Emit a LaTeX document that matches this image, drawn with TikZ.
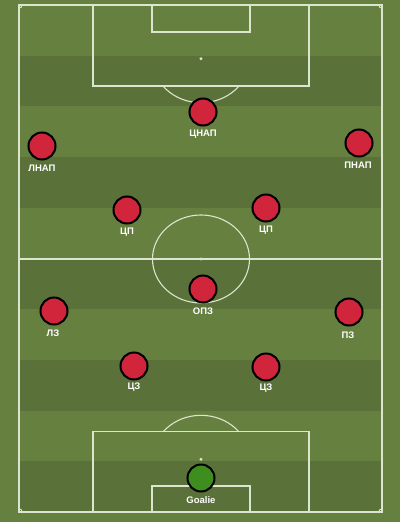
\documentclass[tikz,border=0pt]{standalone}
\usepackage{fontspec}
\setmainfont{Liberation Sans}
\definecolor{grassout}{HTML}{66803F}
\definecolor{grasslight}{HTML}{64803F}
\definecolor{grassdark}{HTML}{5A7139}
\definecolor{pitchline}{HTML}{DCE6CE}
\definecolor{playerred}{HTML}{D0253A}
\definecolor{keepergreen}{HTML}{3E8E1F}
\tikzset{
  pline/.style={draw=pitchline, line width=1.1pt},
  spotdot/.style={circle, fill=pitchline, inner sep=0pt, minimum size=3.2pt},
  player/.style={circle, draw=black, line width=2pt, fill=playerred, minimum size=27pt, inner sep=0pt},
  keeper/.style={player, fill=keepergreen},
  plabel/.style={text=white, font=\bfseries\fontsize{9.5}{10}\selectfont, inner sep=0pt}
}
\begin{document}
\begin{tikzpicture}[x=1pt,y=-1pt]
\useasboundingbox (0,0) rectangle (400,522);
\fill[grassout] (0,0) rectangle (400,522);
% stripes
\foreach \i in {1,3,5,7,9} {
  \fill[grassdark] (19,{5+\i*50.7}) rectangle (382,{5+(\i+1)*50.7});
}
% outline and halfway line
\draw[pline] (19,5) rectangle (382,512);
\draw[pline] (19,259) -- (382,259);
% corner arcs
\begin{scope}
  \clip (19,5) rectangle (382,512);
  \foreach \cx/\cy in {19/5,382/5,19/512,382/512} {
    \draw[pitchline, line width=0.9pt] (\cx,\cy) circle (3.2);
  }
\end{scope}
% centre circle
\draw[pline] (201,259) ellipse [x radius=48.5, y radius=44];
\node[spotdot] (cspot) at (201,259) {};
% top penalty area
\draw[pline] (93,5) rectangle (309,86);
\draw[pline] (152,5) rectangle (250,32);
\node[spotdot] (tspot) at (201,58.7) {};
\begin{scope}
  \clip (0,86) rectangle (400,200);
  \draw[pline] (201,58.7) ellipse [x radius=48.5, y radius=44];
\end{scope}
% bottom penalty area
\draw[pline] (93,431.7) rectangle (309,512);
\draw[pline] (152,486) rectangle (250,512);
\node[spotdot] (bspot) at (201,459.3) {};
\begin{scope}
  \clip (0,300) rectangle (400,431.7);
  \draw[pline] (201,459.3) ellipse [x radius=48.5, y radius=44];
\end{scope}
% players
\node[player] (cf) at (203,112) {};
\node[plabel] (cfl) at (203,134) {ЦНАП};
\node[player] (lf) at (42,146) {};
\node[plabel] (lfl) at (42,168) {ЛНАП};
\node[player] (rf) at (359,143) {};
\node[plabel] (rfl) at (358,165.5) {ПНАП};
\node[player] (lcm) at (127,210) {};
\node[plabel] (lcml) at (127,232) {ЦП};
\node[player] (rcm) at (266,208) {};
\node[plabel] (rcml) at (266,230) {ЦП};
\node[player] (dm) at (203,289) {};
\node[plabel] (dml) at (203,311.5) {ОПЗ};
\node[player] (lb) at (54,311) {};
\node[plabel] (lbl) at (53,333) {ЛЗ};
\node[player] (rb) at (349,312) {};
\node[plabel] (rbl) at (348,335) {ПЗ};
\node[player] (lcb) at (134,366) {};
\node[plabel] (lcbl) at (134,387) {ЦЗ};
\node[player] (rcb) at (266,367) {};
\node[plabel] (rcbl) at (266,388) {ЦЗ};
\node[keeper] (gk) at (201,478) {};
\node[plabel] (gkl) at (201,500) {Goalie};
\end{tikzpicture}
\end{document}
